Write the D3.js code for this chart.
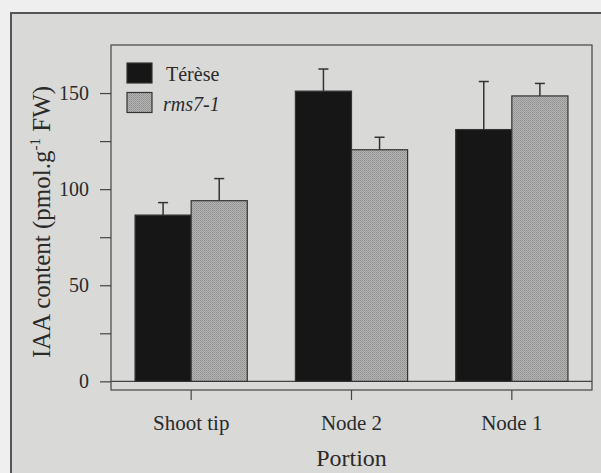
<!DOCTYPE html>
<html>
<head>
<meta charset="utf-8">
<script src="https://cdn.jsdelivr.net/npm/d3@7"></script>
<style>
  body { margin: 0; background: #efefef; }
  text { font-family: "Liberation Serif", "Times New Roman", serif; fill: #2a2a2a; }
</style>
</head>
<body>
<svg width="601" height="473"></svg>
<script>

let categories = ['Shoot tip', 'Node 2', 'Node 1'];
let series = ['Térèse', 'rms7-1'];
let terese = [86.5, 151, 131];
let tereseErr = [6.5, 11.5, 25];
let rms = [94, 120.5, 148.5];
let rmsErr = [11.5, 6.5, 6.5];
let yTicks = [0, 25, 50, 75, 100, 125, 150];

let svg = d3.select('svg');
let margin = { top: 45, right: 9, bottom: 83, left: 111 };
let width = +svg.attr('width');
let height = +svg.attr('height');

// page frame
svg.append('rect')
    .attr('x', 11).attr('y', 13)
    .attr('width', width).attr('height', height)
    .attr('fill', '#d9d9d8')
    .attr('stroke', '#555').attr('stroke-width', 2);

// stipple for the gray bars
let pat = svg.append('defs').append('pattern')
    .attr('id', 'dots')
    .attr('width', 2).attr('height', 2)
    .attr('patternUnits', 'userSpaceOnUse');
pat.append('rect').attr('width', 2).attr('height', 2).attr('fill', '#b4b4b4');
pat.append('rect').attr('width', 1).attr('height', 1).attr('fill', '#8f8f8f');
pat.append('rect').attr('x', 1).attr('y', 1).attr('width', 1).attr('height', 1).attr('fill', '#9c9c9c');

let x = d3.scaleBand()
    .domain(categories)
    .range([margin.left, width - margin.right]);

let y = d3.scaleLinear()
    .domain([-4.5, 175])
    .range([height - margin.bottom, margin.top]);

let barW = x.bandwidth() * 0.35;

// plot box
svg.append('rect')
    .attr('x', margin.left).attr('y', margin.top)
    .attr('width', width - margin.right - margin.left)
    .attr('height', height - margin.bottom - margin.top)
    .attr('fill', 'none')
    .attr('stroke', '#444').attr('stroke-width', 1.2);

// y axis
let yAxis = svg.append('g')
    .attr('transform', 'translate(' + margin.left + ',0)')
    .call(d3.axisLeft(y).tickValues(yTicks).tickSize(11)
        .tickFormat(d => d % 50 === 0 ? d : ''));
yAxis.select('.domain').remove();
yAxis.selectAll('line').attr('stroke', '#444').attr('stroke-width', 1.2);
yAxis.selectAll('text').attr('font-size', 20).attr('fill', '#2a2a2a')
    .attr('font-family', '"Liberation Serif", serif').attr('dx', -8);

// zero line
svg.append('line')
    .attr('x1', margin.left).attr('x2', width - margin.right)
    .attr('y1', y(0)).attr('y2', y(0))
    .attr('stroke', '#444').attr('stroke-width', 1.2);

// x axis
let xAxis = svg.append('g')
    .attr('transform', 'translate(0,' + (height - margin.bottom) + ')')
    .call(d3.axisBottom(x).tickSize(10).tickPadding(15));
xAxis.select('.domain').remove();
xAxis.selectAll('line').attr('stroke', '#444').attr('stroke-width', 1.2);
xAxis.selectAll('text').attr('font-size', 21).attr('fill', '#2a2a2a')
    .attr('font-family', '"Liberation Serif", serif');

let groups = [
    { vals: terese, errs: tereseErr, fill: '#161616', off: -barW },
    { vals: rms, errs: rmsErr, fill: 'url(#dots)', off: 0 }
];

groups.forEach(g => {
    let cx = (d, i) => x(categories[i]) + x.bandwidth() / 2 + g.off;

    svg.append('g').selectAll('line')
        .data(g.vals)
        .enter().append('line')
        .attr('x1', (d, i) => cx(d, i) + barW / 2)
        .attr('x2', (d, i) => cx(d, i) + barW / 2)
        .attr('y1', d => y(d))
        .attr('y2', (d, i) => y(d + g.errs[i]))
        .attr('stroke', '#333').attr('stroke-width', 1.5);

    svg.append('g').selectAll('line')
        .data(g.vals)
        .enter().append('line')
        .attr('x1', (d, i) => cx(d, i) + barW / 2 - 5)
        .attr('x2', (d, i) => cx(d, i) + barW / 2 + 5)
        .attr('y1', (d, i) => y(d + g.errs[i]))
        .attr('y2', (d, i) => y(d + g.errs[i]))
        .attr('stroke', '#333').attr('stroke-width', 1.5);

    svg.append('g').selectAll('rect')
        .data(g.vals)
        .enter().append('rect')
        .attr('x', (d, i) => cx(d, i))
        .attr('y', d => y(d))
        .attr('width', barW)
        .attr('height', d => y(0) - y(d))
        .attr('fill', g.fill)
        .attr('stroke', '#333').attr('stroke-width', 1.2);
});

// legend
let legend = svg.append('g').attr('transform', 'translate(127,63)');
series.forEach((s, i) => {
    legend.append('rect')
        .attr('x', 0).attr('y', i * 29.5)
        .attr('width', 25).attr('height', 20)
        .attr('fill', i === 0 ? '#161616' : 'url(#dots)')
        .attr('stroke', '#333').attr('stroke-width', 1.2);
    legend.append('text')
        .attr('x', i === 0 ? 39 : 36).attr('y', i * 29.5 + 18)
        .attr('font-size', 20)
        .attr('font-style', i === 0 ? 'normal' : 'italic')
        .text(s);
});

// axis titles
let yt = svg.append('text')
    .attr('transform', 'translate(50,222) rotate(-90)')
    .attr('text-anchor', 'middle')
    .attr('font-size', 25);
yt.append('tspan').text('IAA content (pmol.g');
yt.append('tspan').attr('dy', -10).attr('font-size', 15).text('-1');
yt.append('tspan').attr('dy', 10).text(' FW)');

svg.append('text')
    .attr('x', x('Node 2') + x.bandwidth() / 2)
    .attr('y', 466)
    .attr('text-anchor', 'middle')
    .attr('font-size', 24)
    .text('Portion');

</script>
</body>
</html>
